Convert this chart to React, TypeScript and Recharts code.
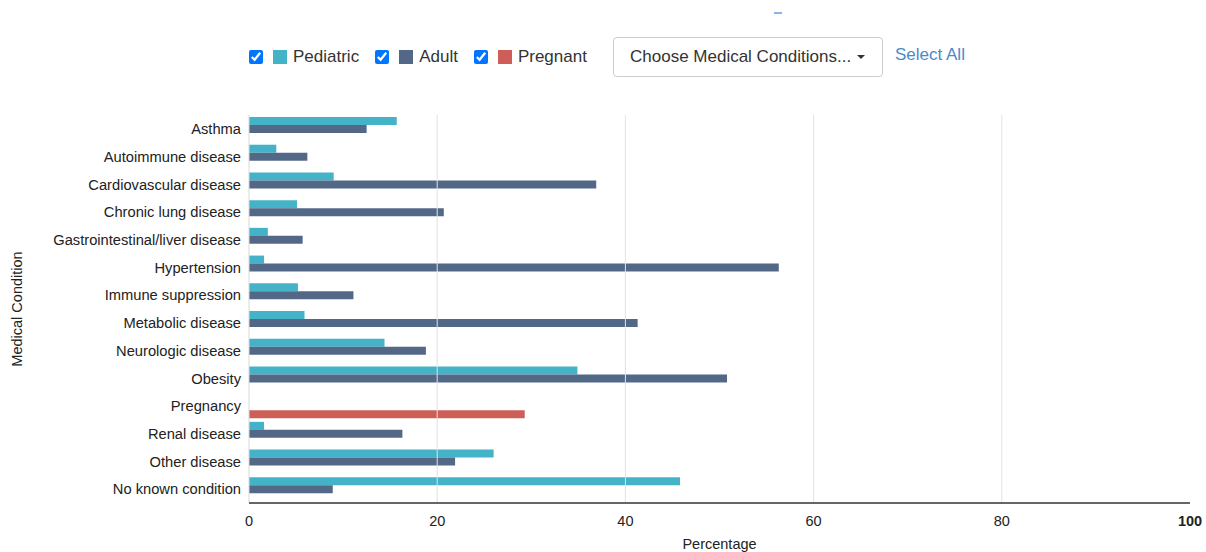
import { BarChart, Bar, XAxis, YAxis, ReferenceLine } from 'recharts'

const CONDITIONS = [
  'Asthma',
  'Autoimmune disease',
  'Cardiovascular disease',
  'Chronic lung disease',
  'Gastrointestinal/liver disease',
  'Hypertension',
  'Immune suppression',
  'Metabolic disease',
  'Neurologic disease',
  'Obesity',
  'Pregnancy',
  'Renal disease',
  'Other disease',
  'No known condition',
]

const PEDIATRIC = [15.7, 2.9, 9.0, 5.1, 2.0, 1.6, 5.2, 5.9, 14.4, 34.9, null, 1.6, 26.0, 45.8]
const ADULT = [12.5, 6.2, 36.9, 20.7, 5.7, 56.3, 11.1, 41.3, 18.8, 50.8, null, 16.3, 21.9, 8.9]
const PREGNANT = [null, null, null, null, null, null, null, null, null, null, 29.3, null, null, null]

const X_TICKS = [0, 20, 40, 60, 80, 100]
const GRID_LINES = [20, 40, 60, 80]

const SERIES = [
  { key: 'pediatric', label: 'Pediatric', color: '#45b3c7' },
  { key: 'adult', label: 'Adult', color: '#536887' },
  { key: 'pregnant', label: 'Pregnant', color: '#ce5f58' },
]

const data = CONDITIONS.map((name, i) => ({
  name,
  pediatric: PEDIATRIC[i],
  adult: ADULT[i],
  pregnant: PREGNANT[i],
}))

const FONT = '"Liberation Sans", Arial, sans-serif'

function XTick({ x, y, payload }: any) {
  return (
    <text x={x} y={y + 15} textAnchor="middle" fontSize={14.5} fill="#222"
      fontWeight={payload.value === 100 ? 700 : 400} fontFamily={FONT}>
      {payload.value}
    </text>
  )
}

export default function App() {
  return (
    <div style={{ position: 'absolute', left: 0, top: 0, width: 1206, height: 552, background: '#fff', fontFamily: FONT }}>
      <div style={{ position: 'absolute', left: 774, top: 12, width: 8, height: 2, background: '#8fb0e8' }} />

      <div style={{ position: 'absolute', left: 249, top: 47, height: 20, display: 'flex', alignItems: 'center', fontSize: 17, color: '#333' }}>
        {SERIES.map((s) => (
          <div key={s.key} style={{ display: 'flex', alignItems: 'center', marginRight: 16 }}>
            <input type="checkbox" checked readOnly style={{ margin: 0, width: 14, height: 14 }} />
            <span style={{ display: 'inline-block', width: 14, height: 14, background: s.color, marginLeft: 10, marginRight: 6 }} />
            <span>{s.label}</span>
          </div>
        ))}
      </div>

      <div style={{
        position: 'absolute', left: 613, top: 37, width: 268, height: 38, border: '1px solid #ccc', borderRadius: 4,
        display: 'flex', alignItems: 'center', fontSize: 17, color: '#333', boxSizing: 'content-box',
      }}>
        <span style={{ marginLeft: 16 }}>Choose Medical Conditions...</span>
        <span style={{
          marginLeft: 6, width: 0, height: 0, borderLeft: '4px solid transparent', borderRight: '4px solid transparent',
          borderTop: '4px solid #333',
        }} />
      </div>

      <div style={{ position: 'absolute', left: 895, top: 45, fontSize: 17, color: '#4a8ac9' }}>Select All</div>

      <div style={{ position: 'absolute', left: 0, top: 0 }}>
        <BarChart
          width={1206}
          height={552}
          data={data}
          layout="vertical"
          margin={{ top: 115, right: 16, bottom: 0, left: 0 }}
          barSize={8}
          barGap={0}
        >
          {GRID_LINES.map((v) => (
            <ReferenceLine key={v} x={v} stroke="#e3e3e3" strokeWidth={1} />
          ))}
          <ReferenceLine x={0} stroke="#d8d8d8" strokeWidth={1} />
          <XAxis
            type="number"
            domain={[0, 100]}
            ticks={X_TICKS}
            interval={0}
            height={49}
            axisLine={{ stroke: '#333', strokeWidth: 1.5 }}
            tickLine={false}
            tick={<XTick />}
            label={{ value: 'Percentage', position: 'insideBottom', offset: 3, fontSize: 14.5, fill: '#222', fontFamily: FONT }}
          />
          <YAxis
            type="category"
            dataKey="name"
            width={249}
            axisLine={false}
            tickLine={false}
            interval={0}
            tick={{ fontSize: 14.7, fill: '#222', fontFamily: FONT }}
            label={{
              value: 'Medical Condition', angle: -90, position: 'insideLeft', offset: 17,
              style: { textAnchor: 'middle', fontSize: 14.5, fill: '#222', fontFamily: FONT },
            }}
          />
          {SERIES.map((s) => (
            <Bar key={s.key} dataKey={s.key} name={s.label} fill={s.color} isAnimationActive={false} />
          ))}
        </BarChart>
      </div>
    </div>
  )
}
